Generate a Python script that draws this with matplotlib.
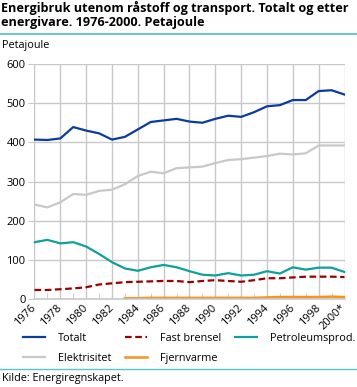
import matplotlib
matplotlib.use("Agg")
import matplotlib.pyplot as plt
import numpy as np
from matplotlib.lines import Line2D

plt.rcParams['font.family'] = ['Open Sans', 'DejaVu Sans']

years = list(range(1976, 2001))
totalt = [407, 406, 410, 439, 430, 423, 407, 414, 433, 452, 456, 460,
          453, 450, 460, 468, 465, 477, 492, 495, 508, 508, 531, 533, 522]
elektrisitet = [241, 234, 247, 268, 266, 276, 279, 293, 314, 325, 321, 334,
                336, 338, 347, 355, 357, 361, 365, 371, 369, 372, 392, 392, 392]
petroleum = [145, 151, 142, 145, 134, 115, 94, 78, 72, 81, 87, 81,
             71, 62, 60, 66, 60, 62, 71, 65, 81, 75, 80, 80, 69]
fast_brensel = [23, 23, 25, 27, 30, 37, 40, 43, 44, 45, 46, 46,
                43, 46, 48, 46, 44, 48, 53, 53, 55, 57, 57, 57, 56]
fjernvarme = [np.nan] * 7 + [2, 2, 3, 3, 3, 3, 3, 3, 3, 3, 3, 4, 5, 5, 5, 5, 6, 5]
tick_years = list(range(1976, 2001, 2))
tick_labels = [str(y) for y in tick_years[:-1]] + ['2000*']

GRID = '#c8c8c8'
TEAL_RULE = '#5bc4c4'

fig = plt.figure(figsize=(3.57, 3.87), dpi=100)
ax = fig.add_axes([0.0966, 0.2274, 0.8684, 0.6072])

ax.plot(years, elektrisitet, color='#c8c8c8', lw=1.6, label='Elektrisitet')
ax.plot(years, fjernvarme, color='#f7941d', lw=1.8, label='Fjernvarme')
ax.plot(years, petroleum, color='#10a09a', lw=1.6, label='Petroleumsprod.')
ax.plot(years, fast_brensel, color='#9b0000', lw=1.6, ls=(0, (3, 1.6)), label='Fast brensel')
ax.plot(years, totalt, color='#0a3c9c', lw=1.6, label='Totalt')

ax.set_xlim(1976, 2000)
ax.set_ylim(0, 600)
ax.set_yticks(range(0, 601, 100))
ax.set_xticks(tick_years)
ax.set_xticks(years, minor=True)
ax.set_xticklabels(tick_labels, rotation=45, ha='right', va='center',
                   rotation_mode='anchor')
ax.grid(True, color=GRID, lw=1)
ax.set_axisbelow(True)
for s in ['top', 'right', 'left']:
    ax.spines[s].set_visible(False)
ax.spines['bottom'].set_color(GRID)
ax.spines['bottom'].set_linewidth(1.2)
ax.tick_params(axis='y', length=4.5, color=GRID, labelsize=8, pad=2)
ax.tick_params(axis='x', which='major', length=0, labelsize=8, pad=5)
ax.tick_params(axis='x', which='minor', length=4, direction='in', color=GRID)

fig.text(0.004, 0.997, 'Energibruk utenom råstoff og transport. Totalt og etter\n'
         'energivare. 1976-2000. Petajoule', fontsize=9.1, fontweight='bold',
         va='top', ha='left', linespacing=1.1)
fig.add_artist(Line2D([0, 1], [0.913, 0.913], color=TEAL_RULE, lw=1.3))
fig.text(0.006, 0.883, 'Petajoule', fontsize=7.8, va='center')

h = {l.get_label(): l for l in ax.get_lines()}
order = ['Totalt', 'Elektrisitet', 'Fast brensel', 'Fjernvarme', 'Petroleumsprod.']
fig.legend([h[k] for k in order], order, ncol=3, loc='center',
           bbox_to_anchor=(0.53, 0.1), frameon=False, fontsize=7.8,
           handlelength=2.0, columnspacing=1.3, handletextpad=1.2, labelspacing=0.85)
fig.add_artist(Line2D([0, 1], [0.046, 0.046], color=TEAL_RULE, lw=1.0))
fig.text(0.006, 0.022, 'Kilde: Energiregnskapet.', fontsize=7.8, va='center')

fig.savefig('out.png', dpi=100)
